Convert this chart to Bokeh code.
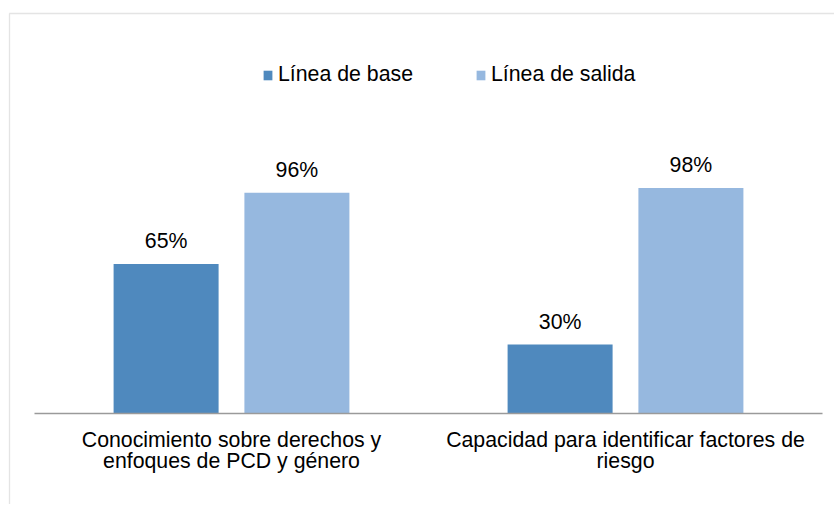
from bokeh.plotting import figure
from bokeh.models import ColumnDataSource, Range1d, Legend, LegendItem, BoxAnnotation
from bokeh.transform import dodge
from bokeh.core.properties import value
from bokeh.embed import file_html
from bokeh.resources import INLINE

# ---- data ----
categories = ["Conocimiento sobre derechos y\nenfoques de PCD y género",
              "Capacidad para identificar factores de\nriesgo"]
series_names = ["Línea de base", "Línea de salida"]
linea_base = [65, 30]
linea_salida = [96, 98]

# ---- styles ----
C_BASE = "#4F89BE"
C_SALIDA = "#96B8DF"
FONT = "Liberation Sans"
FSIZE = "21.3px"
W, H = 834, 504

pos = [i + 0.5 for i in range(len(categories))]
source = ColumnDataSource(dict(
    x=pos,
    cat=categories,
    base=linea_base,
    salida=linea_salida,
    base_lbl=[f"{v}%" for v in linea_base],
    salida_lbl=[f"{v}%" for v in linea_salida],
))

p = figure(width=W, height=H, output_backend="svg", toolbar_location=None,
           x_range=Range1d(-34 / 394, (W - 34) / 394),
           y_range=Range1d(-(H - 413) / 2.3, 413 / 2.3),
           x_axis_location=None, y_axis_location=None,
           min_border=0, min_border_left=0, min_border_right=0,
           min_border_top=0, min_border_bottom=0)
p.grid.visible = False
p.outline_line_color = None
p.background_fill_color = "white"
p.border_fill_color = "white"

OFF = 0.166
BW = 0.2665
r1 = p.vbar(x=dodge("x", -OFF), top="base", width=BW, source=source,
            fill_color=C_BASE, line_color=None)
r2 = p.vbar(x=dodge("x", OFF), top="salida", width=BW, source=source,
            fill_color=C_SALIDA, line_color=None)

# category axis baseline
p.line(x=[0, len(categories)], y=[0, 0], line_color="#9a9a9a", line_width=1.3)

# value labels
p.text(x=dodge("x", -OFF), y="base", text="base_lbl", source=source,
       text_align="center", text_baseline="alphabetic", y_offset=-23,
       text_font=value(FONT), text_font_size=FSIZE, text_color="black")
p.text(x=dodge("x", OFF), y="salida", text="salida_lbl", source=source,
       text_align="center", text_baseline="alphabetic", y_offset=-23,
       text_font=value(FONT), text_font_size=FSIZE, text_color="black")

# category labels
p.text(x="x", y=0, text="cat", source=source,
       text_align="center", text_baseline="top", y_offset=14,
       text_line_height=0.9,
       text_font=value(FONT), text_font_size=FSIZE, text_color="black")

legend = Legend(items=[LegendItem(label=series_names[0], renderers=[r1]),
                       LegendItem(label=series_names[1], renderers=[r2])],
                orientation="horizontal", location=(262, H - 87),
                label_text_font=FONT, label_text_font_size=FSIZE,
                label_text_color="black",
                glyph_width=11, glyph_height=12, label_standoff=5,
                spacing=62, padding=0, margin=0,
                border_line_color=None, background_fill_alpha=0)
p.add_layout(legend)

# chart border (left and top visible)
p.add_layout(BoxAnnotation(left=9, top=13, right=3000, bottom=3000,
                           left_units="canvas", top_units="canvas",
                           right_units="canvas", bottom_units="canvas",
                           fill_alpha=0, line_color="#a6a6a6", line_width=1.3))

open("out.html", "w").write(file_html(p, INLINE))
